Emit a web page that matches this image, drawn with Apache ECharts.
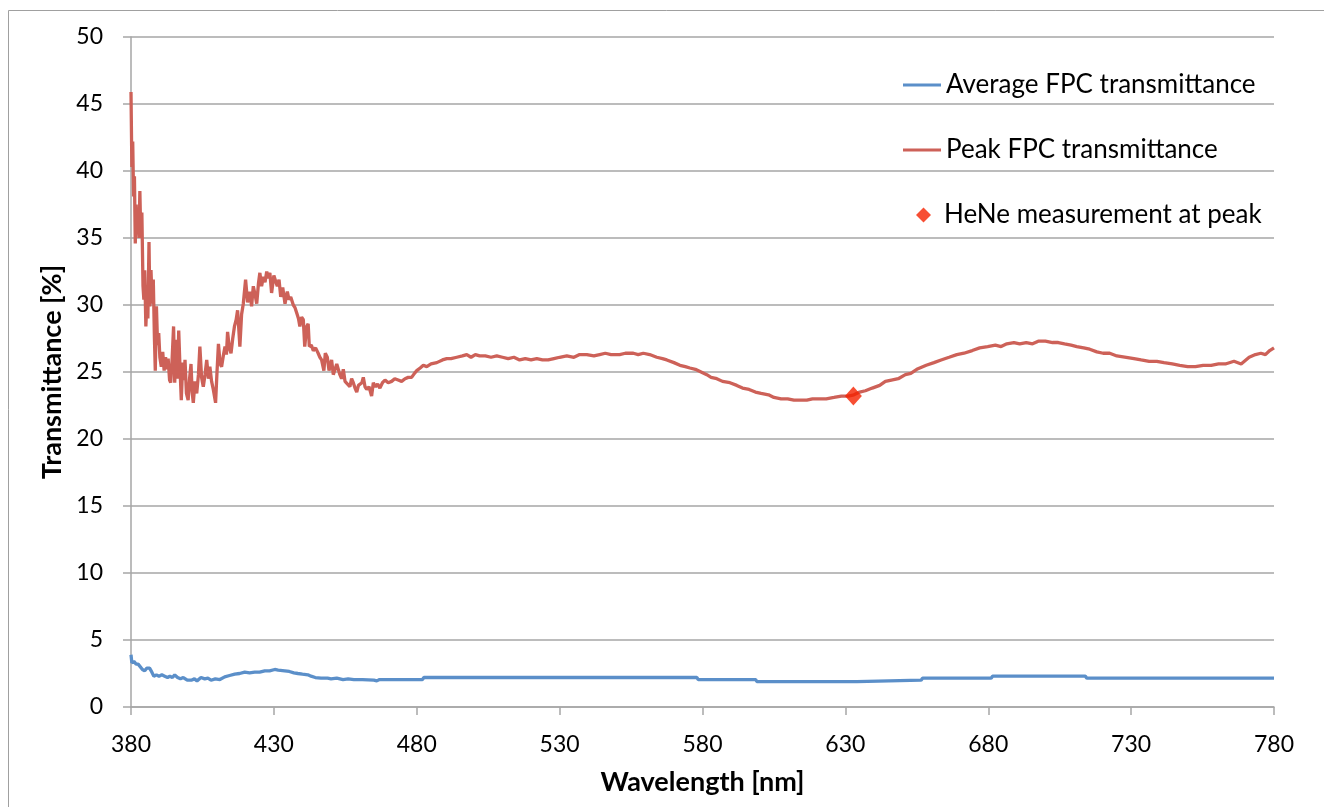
<!DOCTYPE html>
<html>
<head>
<meta charset="utf-8">
<script src="https://cdn.jsdelivr.net/npm/echarts@6/dist/echarts.min.js"></script>
<style>html,body{margin:0;padding:0;background:#fff;}#chart{width:1324px;height:807px;}</style>
</head>
<body>
<div id="chart"></div>
<script>
// Wavelength [nm], transmittance [%] pairs
const peakData = [
[380.0,45.9],[380.3,40.3],[380.6,42.2],[380.9,38.1],[381.2,39.6],[381.5,34.6],[381.8,37.5],[382.1,35.3],[382.5,36.3],[382.8,35.0],
[383.1,38.5],[383.4,35.4],[383.8,36.9],[384.2,31.4],[384.5,30.4],[384.8,32.6],[385.2,28.4],[385.6,30.6],[385.9,29.0],[386.3,34.7],
[386.6,29.9],[387.0,32.6],[387.4,30.1],[387.8,31.9],[388.2,27.5],[388.5,25.1],[388.9,29.9],[389.3,27.0],[389.7,27.9],[390.1,26.1],
[390.6,25.4],[391.1,26.5],[391.6,25.1],[392.1,26.1],[392.6,25.2],[393.0,26.0],[393.5,24.4],[393.9,24.2],[394.4,26.0],[394.9,28.4],
[395.3,24.2],[395.8,27.4],[396.3,24.5],[396.7,28.1],[397.2,25.0],[397.6,22.9],[398.1,25.7],[398.6,24.4],[398.9,25.9],[399.4,23.4],
[400.0,22.9],[400.5,24.5],[401.0,25.6],[401.4,23.5],[401.8,22.7],[402.4,24.3],[403.0,23.4],[403.6,24.8],[404.1,26.9],[404.7,24.6],
[405.3,23.9],[405.9,24.8],[406.5,25.9],[407.1,24.5],[407.6,25.4],[408.2,24.3],[408.8,23.7],[409.6,22.7],[410.1,25.0],[410.6,27.1],
[411.2,25.6],[411.7,25.4],[412.3,26.2],[412.9,26.9],[413.4,26.3],[413.8,28.0],[414.4,26.8],[415.0,26.4],[415.6,27.5],[416.2,28.4],
[416.8,28.9],[417.3,29.6],[417.7,28.3],[418.1,26.9],[418.7,29.3],[419.3,30.1],[420.1,31.9],[420.8,30.2],[421.6,31.0],[422.2,29.9],
[422.8,31.4],[423.4,30.8],[424.0,30.1],[424.6,31.6],[425.1,32.4],[425.7,31.4],[426.3,32.1],[426.9,31.7],[427.5,32.5],[428.0,32.0],
[428.6,32.4],[429.2,30.9],[430.0,32.2],[430.6,31.8],[431.2,31.4],[431.8,31.9],[432.4,30.6],[433.1,31.3],[433.9,30.1],[434.7,31.0],
[435.3,30.4],[435.9,30.6],[436.8,30.0],[437.4,29.8],[438.0,29.4],[438.6,29.0],[439.1,28.4],[439.7,29.1],[440.3,28.9],[440.8,26.9],
[441.5,28.4],[442.0,28.6],[442.4,26.9],[443.1,27.0],[443.8,26.6],[444.6,26.8],[445.5,26.4],[446.1,26.1],[446.7,25.9],[447.5,25.1],
[448.0,26.4],[448.7,26.1],[449.3,25.1],[450.2,25.9],[450.8,24.8],[451.4,24.8],[452.0,25.6],[452.5,25.6],[453.1,24.8],[453.7,24.5],
[454.3,25.2],[454.9,24.3],[455.5,24.3],[456.6,23.9],[457.2,24.5],[457.8,24.2],[458.4,23.8],[459.0,23.5],[459.6,24.0],[460.2,23.9],
[460.8,24.2],[461.3,24.6],[461.9,23.9],[462.5,23.7],[463.3,23.9],[464.2,23.2],[464.8,24.2],[465.6,23.9],[466.3,24.1],[467.1,23.8],
[468.0,24.2],[468.9,24.4],[470.0,24.2],[471.2,24.3],[472.3,24.5],[473.5,24.4],[474.7,24.3],[475.9,24.5],[477.0,24.6],[478.2,24.6],
[479.2,24.9],[480.0,25.1],[481.2,25.3],[482.3,25.5],[483.5,25.4],[485.0,25.6],[487.0,25.7],[489.0,25.9],[490.5,26.0],[492.0,26.0],
[494.0,26.1],[496.0,26.2],[497.5,26.3],[499.0,26.1],[500.5,26.3],[502.0,26.2],[504.0,26.2],[506.0,26.1],[508.0,26.2],[510.0,26.1],
[512.0,26.0],[514.0,26.1],[516.0,25.9],[518.0,26.0],[520.0,25.9],[522.0,26.0],[524.0,25.9],[526.0,25.9],[528.0,26.0],[530.0,26.1],
[532.5,26.2],[535.0,26.1],[537.0,26.3],[539.5,26.3],[542.0,26.2],[544.0,26.3],[546.0,26.4],[548.0,26.3],[551.0,26.3],[553.0,26.4],
[555.8,26.4],[557.5,26.3],[559.3,26.4],[561.5,26.3],[564.0,26.1],[566.0,26.0],[567.5,25.9],[570.0,25.7],[572.1,25.5],[574.0,25.4],
[575.6,25.3],[577.5,25.2],[579.5,25.0],[581.5,24.8],[583.0,24.6],[585.0,24.5],[587.0,24.3],[589.6,24.2],[592.0,24.0],[594.0,23.8],
[596.3,23.7],[598.5,23.5],[600.5,23.4],[603.1,23.3],[605.0,23.1],[607.5,23.0],[609.8,23.0],[612.0,22.9],[614.0,22.9],[616.5,22.9],
[618.5,23.0],[621.0,23.0],[623.3,23.0],[626.0,23.1],[628.6,23.2],[631.0,23.2],[633.0,23.3],[635.0,23.5],[637.0,23.6],[639.4,23.8],
[642.0,24.0],[644.0,24.3],[646.1,24.4],[648.5,24.5],[651.0,24.8],[652.9,24.9],[655.0,25.2],[658.3,25.5],[661.0,25.7],[663.5,25.9],
[666.3,26.1],[669.0,26.3],[671.5,26.4],[674.4,26.6],[677.0,26.8],[679.8,26.9],[682.5,27.0],[684.5,26.9],[686.5,27.1],[689.0,27.2],
[691.0,27.1],[693.3,27.2],[695.5,27.1],[697.5,27.3],[700.0,27.3],[702.5,27.2],[704.5,27.2],[706.7,27.1],[709.0,27.0],[711.0,26.9],
[713.4,26.8],[715.5,26.7],[718.0,26.5],[720.2,26.4],[722.5,26.4],[725.0,26.2],[728.3,26.1],[731.0,26.0],[733.5,25.9],[736.3,25.8],
[739.0,25.8],[741.5,25.7],[744.4,25.6],[747.0,25.5],[749.8,25.4],[752.5,25.4],[755.2,25.5],[758.0,25.5],[760.6,25.6],[763.0,25.6],
[766.0,25.8],[768.5,25.6],[771.3,26.1],[773.5,26.3],[775.4,26.4],[777.0,26.3],[778.5,26.6],[780.0,26.8]
];
const averageData = [
[380.0,3.9],[380.3,3.3],[381.0,3.4],[381.8,3.2],[382.5,3.2],[383.0,3.1],[384.0,2.8],[384.8,2.7],[385.5,2.9],[386.5,2.9],
[387.3,2.6],[388.0,2.3],[388.9,2.4],[389.8,2.3],[390.8,2.4],[391.8,2.3],[392.8,2.2],[393.6,2.3],[394.5,2.2],[395.3,2.4],
[396.3,2.2],[397.3,2.1],[398.3,2.2],[399.7,2.0],[401.1,2.0],[402.2,2.1],[403.1,1.95],[404.5,2.2],[405.8,2.1],[406.9,2.15],
[408.0,2.0],[409.5,2.1],[411.1,2.05],[412.8,2.25],[414.5,2.35],[416.3,2.45],[418.0,2.5],[419.8,2.6],[421.5,2.55],[423.3,2.6],
[425.0,2.6],[426.8,2.7],[428.5,2.7],[430.3,2.8],[431.5,2.75],[433.8,2.7],[435.4,2.65],[437.0,2.55],[438.4,2.5],[440.0,2.45],
[441.9,2.4],[443.0,2.3],[444.5,2.2],[446.5,2.15],[448.8,2.15],[450.0,2.1],[452.0,2.15],[454.2,2.05],[456.0,2.1],[458.0,2.05],
[461.0,2.05],[465.0,2.0],[466.0,1.95],[467.0,2.05],[470.4,2.05],[476.0,2.05],[482.0,2.05],[482.5,2.2],[520.0,2.2],[550.0,2.2],
[578.0,2.2],[578.5,2.05],[598.6,2.05],[599.0,1.9],[634.0,1.9],[634.5,2.0],[656.5,2.0],[657.0,2.15],[681.0,2.15],[681.5,2.3],
[714.0,2.3],[714.5,2.15],[780.0,2.15]
];
const heneData = [[632.8, 23.2]];
const seriesNames = ['Average FPC transmittance', 'Peak FPC transmittance', 'HeNe measurement at peak'];
const xTitle = 'Wavelength [nm]';
const yTitle = 'Transmittance [%]';

const FONT = 'Lato, "Open Sans", sans-serif';
const gridColor = '#a6a6a6';
const chart = echarts.init(document.getElementById('chart'), null, {renderer: 'canvas'});
const legendText = {fontFamily: FONT, fontSize: 26, color: '#000'};
chart.setOption({
  animation: false,
  backgroundColor: '#fff',
  graphic: [{
    type: 'rect', silent: true, z: -10,
    shape: {x: 8.5, y: 10.5, width: 1340, height: 820},
    style: {fill: 'none', stroke: '#a0a0a0', lineWidth: 1}
  }],
  grid: {left: 131, right: 50, top: 37, bottom: 100, containLabel: false},
  xAxis: {
    type: 'value', min: 380, max: 780, interval: 50,
    name: xTitle, nameLocation: 'middle', nameGap: 62,
    nameTextStyle: {fontFamily: FONT, fontSize: 27, fontWeight: 'bold', color: '#000'},
    axisLine: {show: true, lineStyle: {color: gridColor, width: 1.5}},
    axisTick: {show: true, inside: false, length: 8, lineStyle: {color: gridColor, width: 1.5}},
    axisLabel: {fontFamily: FONT, fontSize: 23, color: '#000', margin: 26},
    splitLine: {show: false}
  },
  yAxis: {
    type: 'value', min: 0, max: 50, interval: 5,
    name: yTitle, nameLocation: 'middle', nameGap: 62, nameRotate: 90,
    nameTextStyle: {fontFamily: FONT, fontSize: 27, fontWeight: 'bold', color: '#000'},
    axisLine: {show: true, lineStyle: {color: gridColor, width: 1.5}},
    axisTick: {show: true, inside: false, length: 8, lineStyle: {color: gridColor, width: 1.5}},
    axisLabel: {fontFamily: FONT, fontSize: 23, color: '#000', margin: 28},
    splitLine: {show: true, lineStyle: {color: gridColor, width: 1.5}}
  },
  legend: [
    {data: [seriesNames[0]], left: 903, top: 72, padding: 0, icon: 'rect', itemWidth: 38, itemHeight: 3, textStyle: legendText, selectedMode: false},
    {data: [seriesNames[1]], left: 903, top: 137, padding: 0, icon: 'rect', itemWidth: 38, itemHeight: 3, textStyle: legendText, selectedMode: false},
    {data: [seriesNames[2]], left: 916, top: 202, padding: 0, icon: 'diamond', itemWidth: 15, itemHeight: 15, textStyle: Object.assign({}, legendText, {padding: [0, 0, 0, 8]}), selectedMode: false}
  ],
  series: [
    {name: seriesNames[0], type: 'line', data: averageData, showSymbol: false, symbol: 'none',
     lineStyle: {color: '#5b8fc9', width: 3.3}, itemStyle: {color: '#5b8fc9'}, z: 2},
    {name: seriesNames[1], type: 'line', data: peakData, showSymbol: false, symbol: 'none',
     lineStyle: {color: '#cd6158', width: 3.3}, itemStyle: {color: '#cd6158'}, z: 2},
    {name: seriesNames[2], type: 'scatter', data: heneData, symbol: 'diamond', symbolSize: [17, 19],
     itemStyle: {color: '#f52200'}, z: 3}
  ]
});
</script>
</body>
</html>
